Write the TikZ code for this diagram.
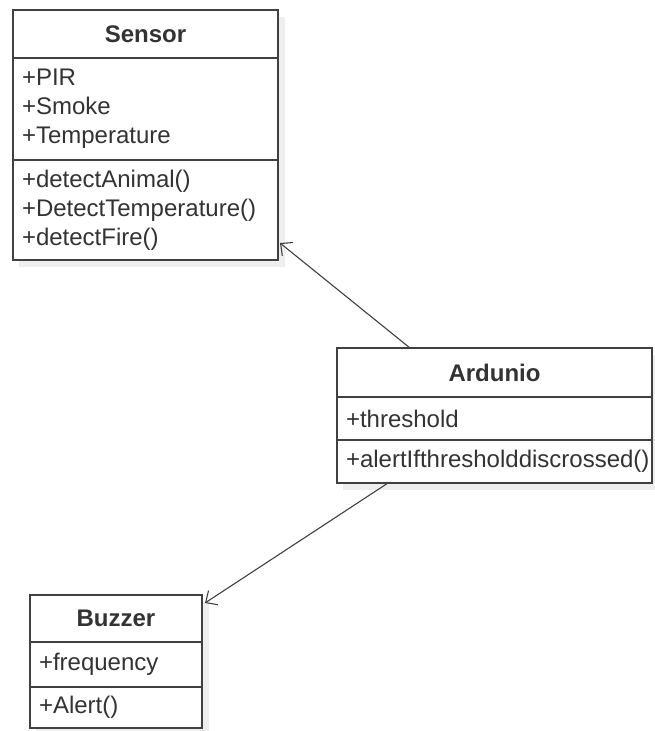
\documentclass[tikz,border=0pt]{standalone}
\usepackage{fontspec}
\setmainfont{Liberation Sans}
\usetikzlibrary{arrows.meta,backgrounds}
\definecolor{umlline}{HTML}{404040}
\definecolor{umltext}{HTML}{333333}
\definecolor{umlshade}{HTML}{EEEEEE}
\begin{document}
\begin{tikzpicture}[
        x=1pt, y=-1pt,
        box/.style={draw=umlline, line width=1.5pt, fill=white, anchor=north west,
            inner xsep=9pt, inner ysep=0pt, outer sep=0pt, text=umltext,
            font=\fontsize{24}{29}\selectfont},
        title/.style={box, font=\fontsize{24}{29}\selectfont\bfseries, align=center},
        members/.style={box, align=left},
        assoc/.style={draw=umlline, line width=1.1pt, -{Straight Barb[length=9pt, width=17pt]}}
    ]
    \useasboundingbox (0,0) rectangle (654,731);

    % Sensor
    \node[title, text width=247pt, minimum height=48pt] (senTitle) at (13,10) {Sensor};
    \node[members, text width=247pt, minimum height=102pt] (senAttr) at (senTitle.south west)
        {+PIR\\+Smoke\\+Temperature};
    \node[members, text width=247pt, minimum height=100pt] (senOps) at (senAttr.south west)
        {+detectAnimal()\\+DetectTemperature()\\+detectFire()};

    % Ardunio
    \node[title, text width=297pt, minimum height=49pt] (ardTitle) at (337,348) {Ardunio};
    \node[members, text width=297pt, minimum height=43pt] (ardAttr) at (ardTitle.south west)
        {+threshold};
    \node[members, text width=297pt, minimum height=43pt] (ardOps) at (ardAttr.south west)
        {+alertIfthresholddiscrossed()};

    % Buzzer
    \node[title, text width=154pt, minimum height=47pt] (buzTitle) at (30,595) {Buzzer};
    \node[members, text width=154pt, minimum height=45pt] (buzAttr) at (buzTitle.south west)
        {+frequency};
    \node[members, text width=154pt, minimum height=41pt] (buzOps) at (buzAttr.south west)
        {+Alert()};

    \begin{scope}[on background layer]
        \fill[umlshade] ([shift={(6pt,-7pt)}]senTitle.north west) rectangle ([shift={(7pt,-7pt)}]senOps.south east);
        \fill[umlshade] ([shift={(6pt,-7pt)}]ardTitle.north west) rectangle ([shift={(7pt,-7pt)}]ardOps.south east);
        \fill[umlshade] ([shift={(6pt,-7pt)}]buzTitle.north west) rectangle ([shift={(7pt,-7pt)}]buzOps.south east);
    \end{scope}

    \draw[assoc] ([xshift=73pt]ardTitle.north west) -- ([shift={(2pt,17pt)}]senOps.south east);
    \draw[assoc] ([xshift=51pt]ardOps.south west) -- ([shift={(3pt,-8pt)}]buzTitle.north east);
\end{tikzpicture}
\end{document}
